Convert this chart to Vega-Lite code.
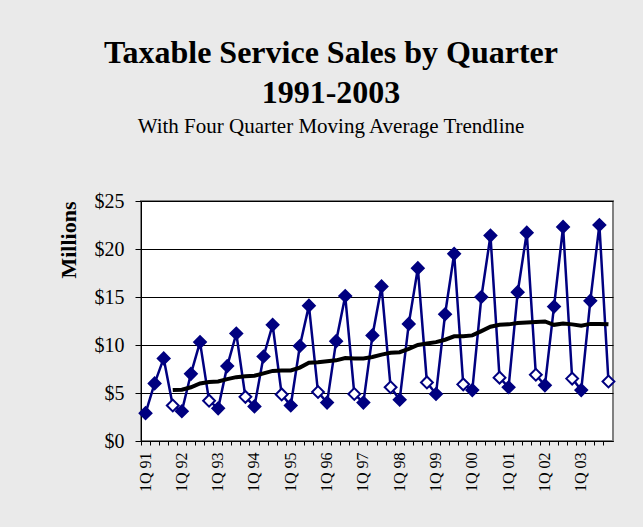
{
  "$schema": "https://vega.github.io/schema/vega-lite/v6.json",
  "width": 472,
  "height": 240,
  "autosize": {"type": "none"},
  "padding": {"left": 141, "top": 201, "right": 30, "bottom": 86},
  "background": "#EAEAEA",
  "title": {
    "text": ["Taxable Service Sales by Quarter", "1991-2003"],
    "subtitle": "With Four Quarter Moving Average Trendline",
    "font": "Liberation Serif",
    "fontSize": 32,
    "fontWeight": "bold",
    "lineHeight": 40,
    "color": "black",
    "subtitleFont": "Liberation Serif",
    "subtitleFontSize": 21,
    "subtitleColor": "black",
    "subtitlePadding": 6,
    "anchor": "middle",
    "frame": "group",
    "dx": -46,
    "offset": 53
  },
  "data": {
    "values": [
      {"q": "1Q 91", "qtr": 1, "v": 2.9, "ma": null},
      {"q": "2Q 91", "qtr": 2, "v": 6.0, "ma": null},
      {"q": "3Q 91", "qtr": 3, "v": 8.6, "ma": null},
      {"q": "4Q 91", "qtr": 4, "v": 3.7, "ma": 5.3},
      {"q": "1Q 92", "qtr": 1, "v": 3.1, "ma": 5.35},
      {"q": "2Q 92", "qtr": 2, "v": 7.0, "ma": 5.6},
      {"q": "3Q 92", "qtr": 3, "v": 10.3, "ma": 6.0},
      {"q": "4Q 92", "qtr": 4, "v": 4.2, "ma": 6.15},
      {"q": "1Q 93", "qtr": 1, "v": 3.4, "ma": 6.2},
      {"q": "2Q 93", "qtr": 2, "v": 7.8, "ma": 6.45},
      {"q": "3Q 93", "qtr": 3, "v": 11.2, "ma": 6.65},
      {"q": "4Q 93", "qtr": 4, "v": 4.6, "ma": 6.75},
      {"q": "1Q 94", "qtr": 1, "v": 3.6, "ma": 6.8},
      {"q": "2Q 94", "qtr": 2, "v": 8.8, "ma": 7.05},
      {"q": "3Q 94", "qtr": 3, "v": 12.1, "ma": 7.3},
      {"q": "4Q 94", "qtr": 4, "v": 4.85, "ma": 7.35},
      {"q": "1Q 95", "qtr": 1, "v": 3.7, "ma": 7.35},
      {"q": "2Q 95", "qtr": 2, "v": 9.9, "ma": 7.65},
      {"q": "3Q 95", "qtr": 3, "v": 14.1, "ma": 8.15},
      {"q": "4Q 95", "qtr": 4, "v": 5.1, "ma": 8.2},
      {"q": "1Q 96", "qtr": 1, "v": 4.0, "ma": 8.3},
      {"q": "2Q 96", "qtr": 2, "v": 10.4, "ma": 8.4},
      {"q": "3Q 96", "qtr": 3, "v": 15.1, "ma": 8.65},
      {"q": "4Q 96", "qtr": 4, "v": 4.9, "ma": 8.6},
      {"q": "1Q 97", "qtr": 1, "v": 4.0, "ma": 8.6},
      {"q": "2Q 97", "qtr": 2, "v": 11.0, "ma": 8.75},
      {"q": "3Q 97", "qtr": 3, "v": 16.1, "ma": 9.0},
      {"q": "4Q 97", "qtr": 4, "v": 5.6, "ma": 9.2},
      {"q": "1Q 98", "qtr": 1, "v": 4.3, "ma": 9.25},
      {"q": "2Q 98", "qtr": 2, "v": 12.2, "ma": 9.6},
      {"q": "3Q 98", "qtr": 3, "v": 18.0, "ma": 10.0},
      {"q": "4Q 98", "qtr": 4, "v": 6.1, "ma": 10.15},
      {"q": "1Q 99", "qtr": 1, "v": 4.9, "ma": 10.3},
      {"q": "2Q 99", "qtr": 2, "v": 13.2, "ma": 10.55},
      {"q": "3Q 99", "qtr": 3, "v": 19.5, "ma": 10.9},
      {"q": "4Q 99", "qtr": 4, "v": 5.9, "ma": 10.9},
      {"q": "1Q 00", "qtr": 1, "v": 5.3, "ma": 11.0},
      {"q": "2Q 00", "qtr": 2, "v": 15.0, "ma": 11.45},
      {"q": "3Q 00", "qtr": 3, "v": 21.4, "ma": 11.9},
      {"q": "4Q 00", "qtr": 4, "v": 6.6, "ma": 12.1},
      {"q": "1Q 01", "qtr": 1, "v": 5.6, "ma": 12.15},
      {"q": "2Q 01", "qtr": 2, "v": 15.5, "ma": 12.3},
      {"q": "3Q 01", "qtr": 3, "v": 21.7, "ma": 12.35},
      {"q": "4Q 01", "qtr": 4, "v": 6.9, "ma": 12.4},
      {"q": "1Q 02", "qtr": 1, "v": 5.8, "ma": 12.45},
      {"q": "2Q 02", "qtr": 2, "v": 14.0, "ma": 12.1},
      {"q": "3Q 02", "qtr": 3, "v": 22.3, "ma": 12.25},
      {"q": "4Q 02", "qtr": 4, "v": 6.5, "ma": 12.15},
      {"q": "1Q 03", "qtr": 1, "v": 5.3, "ma": 12.0},
      {"q": "2Q 03", "qtr": 2, "v": 14.6, "ma": 12.2},
      {"q": "3Q 03", "qtr": 3, "v": 22.5, "ma": 12.2},
      {"q": "4Q 03", "qtr": 4, "v": 6.2, "ma": 12.15}
    ]
  },
  "encoding": {
    "x": {
      "field": "q",
      "type": "ordinal",
      "sort": null,
      "scale": {"type": "band", "paddingInner": 0, "paddingOuter": 0},
      "axis": {
        "title": null,
        "labelAngle": -90,
        "labelFont": "Liberation Serif",
        "labelFontSize": 16,
        "labelColor": "black",
        "tickColor": "black",
        "domainColor": "black",
        "tickSize": 4,
        "labelPadding": 7,
        "bandPosition": 0,
        "labelOffset": 0,
        "labelOverlap": false,
        "labelExpr": "slice(datum.value, 0, 2) === '1Q' ? datum.value : ''",
        "grid": false
      }
    }
  },
  "layer": [
    {
      "mark": {"type": "line", "color": "#000080", "strokeWidth": 2.5},
      "encoding": {
        "y": {
          "field": "v",
          "type": "quantitative",
          "scale": {"domain": [0, 25], "nice": false},
          "axis": {
            "title": "Millions",
            "titleFont": "Liberation Serif",
            "titleFontSize": 22,
            "titleFontWeight": "bold",
            "titleColor": "black",
            "titleAnchor": "end",
            "titlePadding": 14,
            "values": [0, 5, 10, 15, 20, 25],
            "labelExpr": "'$' + datum.value",
            "labelFont": "Liberation Serif",
            "labelFontSize": 20,
            "labelColor": "black",
            "tickSize": 6,
            "labelPadding": 11,
            "tickColor": "black",
            "domainColor": "black",
            "grid": true,
            "gridColor": "black",
            "gridOpacity": 1
          }
        }
      }
    },
    {
      "mark": {"type": "line", "color": "black", "strokeWidth": 4},
      "encoding": {
        "y": {"field": "ma", "type": "quantitative"}
      }
    },
    {
      "mark": {"type": "point", "shape": "diamond", "size": 140, "filled": true, "strokeWidth": 2, "stroke": "#000080", "opacity": 1},
      "encoding": {
        "y": {"field": "v", "type": "quantitative"},
        "fill": {"condition": {"test": "datum.qtr === 4", "value": "white"}, "value": "#000080"}
      }
    }
  ],
  "config": {
    "view": {"fill": "white", "stroke": "#808080", "strokeWidth": 2}
  }
}
